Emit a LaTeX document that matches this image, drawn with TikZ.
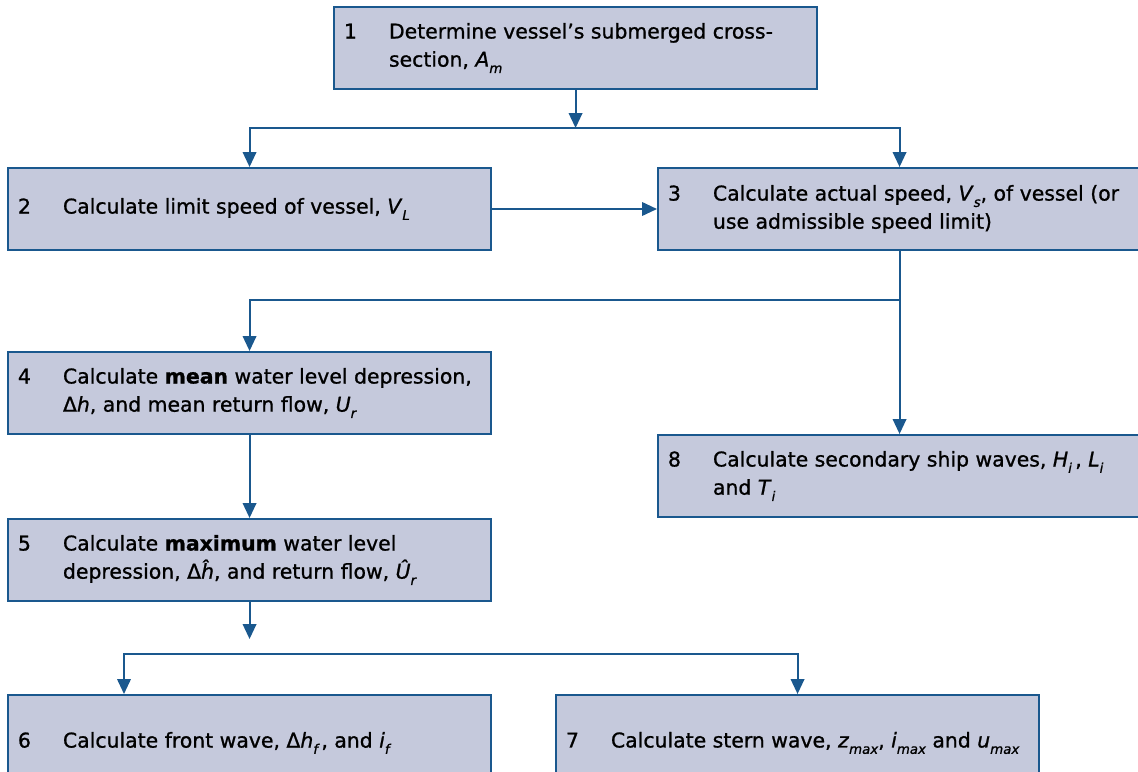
\documentclass[tikz,border=0pt]{standalone}
\usepackage{fontspec}
\setmainfont{DejaVu Sans}[FakeBold=1.0]
\usepackage{tikz}
\usetikzlibrary{arrows.meta, positioning}

\definecolor{boxfill}{RGB}{197,201,220}
\definecolor{boxline}{RGB}{26,88,142}

% step number in its own column, wrapped text beside it
\newcommand{\stagetext}[2]{\makebox[1.125cm][l]{#1}\parbox[t]{10.45cm}{#2}}
% low, small italic index
\newcommand{\idx}[1]{\raisebox{-4.5pt}{\fontsize{9.5}{10}\selectfont\itshape #1}}

\tikzset{
    stage/.style={draw=boxline, fill=boxfill, line width=1.4pt, rectangle,
        anchor=north west, minimum width=12.075cm, minimum height=2.05cm,
        inner xsep=0.25cm, inner ysep=0pt,
        font=\fontsize{14.5}{20}\selectfont},
    flow/.style={draw=boxline, line width=1.4pt,
        -{Triangle[length=10.5pt, width=9.5pt]}}
}

\begin{document}
\begin{tikzpicture}[x=0.025cm, y=-0.025cm]
    \clip (0,0) rectangle (1138,771);

    \node[stage] (s1) at (333,6) {\stagetext{1}{Determine vessel’s submerged cross-\\section, \textit{A}\idx{m}}};
    \node[stage] (s2) at (7,167) {\stagetext{2}{Calculate limit speed of vessel, \textit{V}\idx{L}}};
    \node[stage] (s3) at (657,167) {\stagetext{3}{Calculate actual speed, \textit{V}\idx{s}, of vessel (or\\use admissible speed limit)}};
    \node[stage] (s4) at (7,351) {\stagetext{4}{Calculate \textbf{mean} water level depression,\\Δ\textit{h}, and mean return flow, \textit{U}\idx{r}}};
    \node[stage] (s8) at (657,434) {\stagetext{8}{Calculate secondary ship waves, \textit{H}\idx{i}\,, \textit{L}\idx{i}\\and \textit{T}\idx{i}}};
    \node[stage] (s5) at (7,518) {\stagetext{5}{Calculate \textbf{maximum} water level\\depression, Δ\textit{ĥ}, and return flow, \textit{Û}\idx{r}}};
    \node[stage, minimum height=2.4cm] (s6) at (7,694) {\stagetext{6}{Calculate front wave, Δ\textit{h}\idx{f}\,, and \textit{i}\idx{f}}};
    \node[stage, minimum height=2.4cm] (s7) at (555,694) {\stagetext{7}{Calculate stern wave, \textit{z}\idx{max}, \textit{i}\idx{max} and \textit{u}\idx{max}}};

    % rows of the branching lines
    \coordinate (r1) at (0,128);
    \coordinate (r2) at (0,300);
    \coordinate (r3) at (0,654);
    \coordinate (r4) at (0,639);
    \coordinate (c6) at (124,694);

    \draw[flow] (s1.south) -- (s1.south |- r1);
    \draw[flow] (s1.south |- r1) -| (s2.north);
    \draw[flow] (s1.south |- r1) -| (s3.north);
    \draw[flow] (s2.east) -- (s3.west);

    \draw[flow] (s3.south) -- (s8.north);
    \draw[flow] (s3.south |- r2) -| (s4.north);
    \draw[flow] (s4.south) -- (s5.north);

    \draw[flow] (s5.south) -- (s5.south |- r4);
    \draw[flow] (s5.south |- r3) -| (c6);
    \draw[flow] (s5.south |- r3) -| (s7.north);
\end{tikzpicture}
\end{document}
